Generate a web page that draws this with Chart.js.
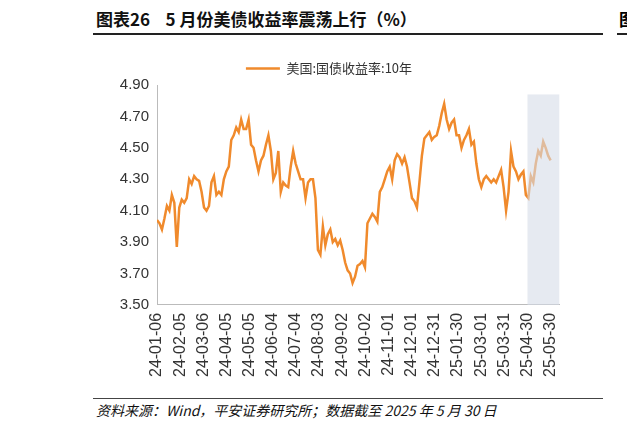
<!DOCTYPE html>
<html>
<head>
<meta charset="utf-8">
<script src="https://cdn.jsdelivr.net/npm/chart.js@4"></script>
<style>
body { margin: 0; background: #fff; font-family: "Noto Sans CJK SC", sans-serif; }
#title { position: absolute; left: 96px; top: 6px; font-size: 17px; font-weight: bold; color: #111; }
#topline { position: absolute; left: 93px; top: 33px; width: 510px; border-top: 2px solid #222; }
#edge { position: absolute; left: 619px; top: 6px; font-size: 17px; font-weight: bold; }
#edgeline { position: absolute; left: 617px; top: 33px; width: 10px; border-top: 2px solid #222; }
#wrap { position: absolute; left: 93px; top: 46px; width: 480px; height: 334px; }
#srcline { position: absolute; left: 93px; top: 398px; width: 510px; border-top: 1px solid #444; }
#src { position: absolute; left: 96px; top: 400px; font-size: 14px; font-style: italic; color: #111; }
</style>
</head>
<body>
<div id="title">图表26&nbsp;&nbsp;&nbsp;&nbsp;5 月份美债收益率震荡上行（%）</div>
<div id="topline"></div>
<div id="edge">图</div>
<div id="edgeline"></div>
<div id="wrap"><canvas id="myChart"></canvas></div>
<div id="srcline"></div>
<div id="src">资料来源：Wind，平安证券研究所；数据截至 2025 年 5 月 30 日</div>
<script>
// 美国:国债收益率:10年 (约每2个交易日一个点)
const yieldData = [
    4.04, 4.02, 3.98, 4.05, 4.13, 4.10, 4.20, 4.15, 3.87, 4.12,
    4.17, 4.15, 4.18, 4.30, 4.27, 4.32, 4.30, 4.29, 4.22, 4.12,
    4.10, 4.13, 4.28, 4.32, 4.20, 4.22, 4.20, 4.30, 4.35, 4.38,
    4.55, 4.58, 4.63, 4.60, 4.68, 4.62, 4.62, 4.68, 4.52, 4.50,
    4.42, 4.35, 4.42, 4.45, 4.52, 4.58, 4.48, 4.30, 4.34, 4.48,
    4.22, 4.28, 4.26, 4.25, 4.38, 4.48, 4.40, 4.35, 4.30, 4.30,
    4.18, 4.28, 4.30, 4.30, 4.18, 3.85, 3.82, 4.00, 3.88, 3.95,
    3.98, 3.90, 3.92, 3.88, 3.91, 3.85, 3.77, 3.72, 3.70, 3.64,
    3.68, 3.75, 3.76, 3.78, 3.74, 4.02, 4.05, 4.08, 4.06, 4.03,
    4.22, 4.25, 4.30, 4.35, 4.38, 4.30, 4.42, 4.46, 4.44, 4.40,
    4.44, 4.38, 4.28, 4.18, 4.16, 4.12, 4.28, 4.45, 4.56, 4.58,
    4.60, 4.55, 4.57, 4.58, 4.64, 4.72, 4.78, 4.68, 4.62, 4.66,
    4.68, 4.58, 4.58, 4.50, 4.55, 4.58, 4.62, 4.52, 4.54, 4.40,
    4.30, 4.25, 4.30, 4.32, 4.30, 4.28, 4.30, 4.28, 4.32, 4.36,
    4.25, 4.10, 4.22, 4.48, 4.38, 4.35, 4.30, 4.33, 4.35, 4.20,
    4.18, 4.32, 4.28, 4.40, 4.48, 4.45, 4.54, 4.50, 4.45, 4.42,
];

// x轴标签
const tickLabels = [
    '24-01-06', '24-02-05', '24-03-06', '24-04-05', '24-05-05', '24-06-04',
    '24-07-04', '24-08-03', '24-09-02', '24-10-02', '24-11-01', '24-12-01',
    '24-12-31', '25-01-30', '25-03-01', '25-03-31', '25-04-30', '25-05-30',
];
const tickStep = 159 / 17;
const xMax = 162.5;
const yTicks = [3.5, 3.7, 3.9, 4.1, 4.3, 4.5, 4.7, 4.9];

// 阴影区间 (4月30日之后)
const shadeFrom = 16 * tickStep;

const points = yieldData.map((v, i) => ({ x: i, y: v }));

const shadePlugin = {
    id: 'shade',
    afterDatasetsDraw: (chart) => {
        const ctx = chart.ctx;
        const xs = chart.scales.x;
        const ys = chart.scales.y;
        const left = xs.getPixelForValue(shadeFrom);
        const right = xs.getPixelForValue(xMax);
        const top = ys.getPixelForValue(4.84);
        ctx.save();
        ctx.fillStyle = 'rgba(214, 220, 232, 0.6)';
        ctx.fillRect(left, top, right - left, ys.bottom - top);
        ctx.restore();
    },
};

const config = {
    type: 'line',
    data: {
        datasets: [
            {
                label: '美国:国债收益率:10年',
                data: points,
                borderColor: '#f08a2c',
                backgroundColor: '#f08a2c',
                borderWidth: 2.5,
                pointRadius: 0,
                tension: 0,
            },
        ],
    },
    options: {
        responsive: true,
        maintainAspectRatio: false,
        animation: false,
        layout: { padding: { right: 8, top: 2 } },
        plugins: {
            legend: {
                labels: {
                    boxWidth: 34,
                    boxHeight: 0,
                    padding: 14,
                    color: '#333',
                    font: { size: 13, family: '"Noto Sans CJK SC", sans-serif' },
                },
            },
            tooltip: { enabled: false },
        },
        scales: {
            x: {
                type: 'linear',
                min: 0,
                max: xMax,
                afterBuildTicks: (axis) => {
                    axis.ticks = tickLabels.map((t, i) => ({ value: i * tickStep }));
                },
                grid: { display: false, drawTicks: true, tickLength: 5, color: '#ccc' },
                border: { color: '#bbb' },
                ticks: {
                    minRotation: 90,
                    maxRotation: 90,
                    autoSkip: false,
                    color: '#333',
                    font: { size: 16, family: 'Arial, "Liberation Sans", sans-serif' },
                    callback: (v) => tickLabels[Math.round(v / tickStep)],
                },
            },
            y: {
                min: 3.5,
                max: 4.9,
                afterBuildTicks: (axis) => {
                    axis.ticks = yTicks.map((v) => ({ value: v }));
                },
                afterFit: (axis) => {
                    axis.width = 64;
                },
                grid: { display: false, drawTicks: true, tickLength: 5, color: '#ccc' },
                border: { color: '#bbb' },
                ticks: {
                    color: '#333',
                    font: { size: 15, family: 'Arial, "Liberation Sans", sans-serif' },
                    callback: (v) => v.toFixed(2),
                },
            },
        },
    },
    plugins: [shadePlugin],
};

new Chart(document.getElementById('myChart'), config);
</script>
</body>
</html>
